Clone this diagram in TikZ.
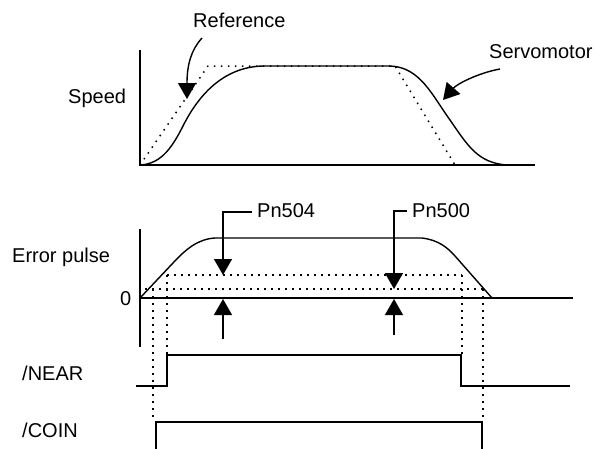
\documentclass[tikz,border=0pt]{standalone}
\usepackage{fontspec}
\setmainfont{Liberation Sans}
\usetikzlibrary{arrows.meta}
\begin{document}
\begin{tikzpicture}[x=1pt,y=-1pt,
  ln/.style={line width=1.4pt},
  dots/.style={line width=1.5pt, dash pattern=on 1.5pt off 5.5pt},
  lbl/.style={inner sep=0pt, anchor=base west, font=\fontsize{20}{24}\selectfont},
  arr/.style={ln, -{Triangle[width=18pt,length=16pt]}}]
\useasboundingbox (0,0) rectangle (596,448);

% ---------- labels ----------
\node[lbl] (reflbl)   at (193,27)  {Reference};
\node[lbl] (servolbl) at (489,58)  {Servomotor};
\node[lbl] (speedlbl) at (68,103)  {Speed};
\node[lbl] (errlbl)   at (12,262)  {Error pulse};
\node[lbl] (zerolbl)  at (120,305) {0};
\node[lbl] (nearlbl)  at (22,380)  {/NEAR};
\node[lbl] (coinlbl)  at (22,437)  {/COIN};
\node[lbl] (pnA)      at (257,217) {Pn504};
\node[lbl] (pnB)      at (412,217) {Pn500};

% ---------- speed chart ----------
\coordinate (sO) at (140,165);
\draw[ln] (140,50) -- (sO) -- (535,165);
\draw[dots] (sO) -- (208,66) -- (395,66) -- (455,165);
\draw[ln] (sO) .. controls (162,164) and (173,146) .. (184,124)
  .. controls (198,97) and (222,67) .. (263,66) -- (390,66)
  .. controls (420,67) and (432,95) .. (450,120)
  .. controls (468,146) and (478,163) .. (507,165);
\coordinate (refS) at (202,38);
\coordinate (refT) at (187,99);
\draw[arr] (refS) .. controls (191,50) and (187,65) .. (refT);
\coordinate (srvS) at (500,69);
\coordinate (srvT) at (443,100);
\draw[arr] (srvS) .. controls (478,73) and (457,84) .. (srvT);

% ---------- error pulse chart ----------
\coordinate (eO) at (140,298);
\draw[ln] (140,229) -- (140,347);
\draw[ln] (eO) -- (573,298);
\draw[ln] (eO) -- (173,263) .. controls (186,249) and (198,239) .. (215,238)
  -- (422,238) .. controls (438,240) and (447,247) .. (455,256) -- (492,298);

\draw[dots] (145,289) -- (483,289);
\draw[dots] (167,275) -- (462,275);
\draw[dots] (167,275) -- (167,355);
\draw[dots] (462,275) -- (462,355);
\draw[dots] (153,289) -- (153,420);
\draw[dots] (483,289) -- (483,420);

\coordinate (aK) at (252,212);
\coordinate (aC) at (223,212);
\draw[arr] (aK) -- (aC) -- (223,275);
\draw[arr] (223,339) -- (223,299);
\coordinate (bK) at (407,211);
\coordinate (bC) at (394,211);
\draw[arr] (bK) -- (bC) -- (394,289);
\draw[arr] (394,335) -- (394,299);

% ---------- /NEAR ----------
\draw[ln] (136,386) -- (167,386) -- (167,355) -- (461,355) -- (461,386) -- (570,386);
% ---------- /COIN ----------
\draw[ln] (156,449) -- (156,422) -- (482,422) -- (482,449);
\end{tikzpicture}
\end{document}
